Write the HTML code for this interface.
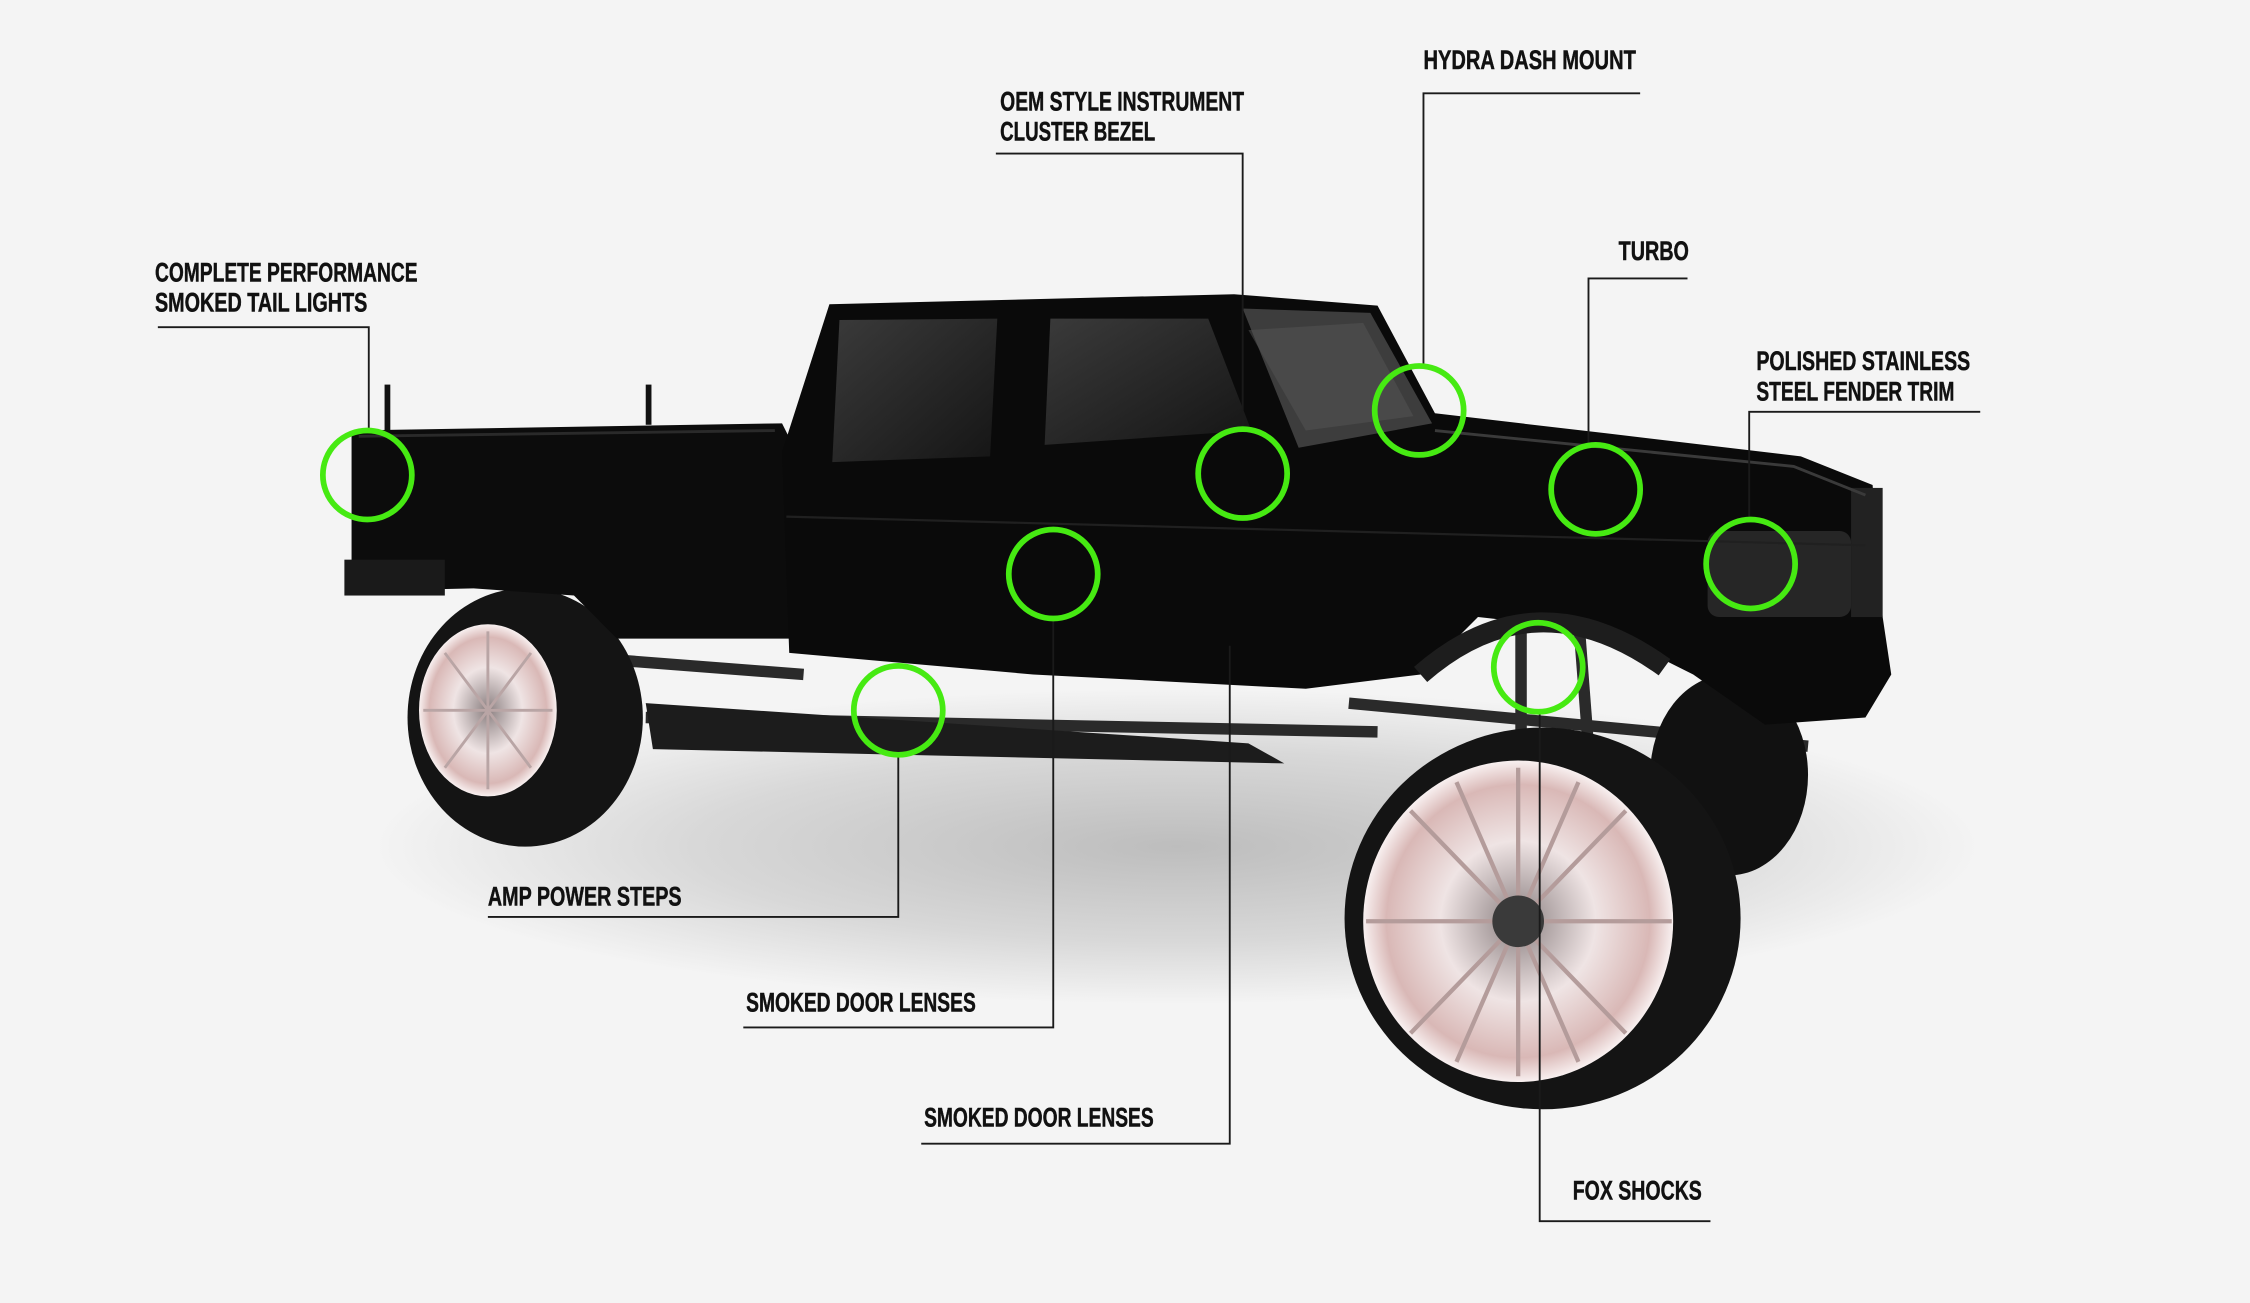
<!DOCTYPE html>
<html><head><meta charset="utf-8"><style>
html,body{margin:0;padding:0;background:#f4f4f4;}
svg{display:block}
.t{font-family:"Liberation Sans Narrow","Liberation Sans",sans-serif;font-weight:bold;font-size:19px;fill:#111;stroke:#111;stroke-width:0.35;}
.l{stroke:#1a1a1a;stroke-width:1.3;fill:none}
.c{stroke:#46ea12;stroke-width:4;fill:none}
</style></head><body>
<svg width="2250" height="1303" viewBox="0 0 1568 908" xmlns="http://www.w3.org/2000/svg">
<defs>
<radialGradient id="sh" cx="50%" cy="50%" r="50%">
<stop offset="0" stop-color="#bdbdbd"/><stop offset="0.6" stop-color="#d8d8d8"/><stop offset="1" stop-color="#f4f4f4"/>
</radialGradient>
<radialGradient id="rim" cx="50%" cy="50%" r="50%">
<stop offset="0" stop-color="#8a7f80"/><stop offset="0.5" stop-color="#efe4e4"/><stop offset="0.85" stop-color="#d9b8b6"/><stop offset="1" stop-color="#f8f0f0"/>
</radialGradient>
<linearGradient id="glass" x1="0" y1="0" x2="1" y2="1">
<stop offset="0" stop-color="#3a3a3a"/><stop offset="1" stop-color="#151515"/>
</linearGradient>
</defs>
<rect width="1568" height="908" fill="#f4f4f4"/>
<ellipse cx="820" cy="590" rx="560" ry="110" fill="url(#sh)"/>
<g stroke="#2a2a2a" stroke-width="8" fill="none">
<line x1="300" y1="450" x2="560" y2="470"/>
<line x1="450" y1="500" x2="960" y2="510"/>
<line x1="940" y1="490" x2="1260" y2="520"/>
<line x1="1100" y1="430" x2="1110" y2="560"/>
<line x1="1060" y1="430" x2="1060" y2="540"/>
</g>
<ellipse cx="1205" cy="540" rx="55" ry="70" fill="#111"/>
<ellipse cx="366" cy="500" rx="82" ry="90" fill="#141414"/>
<ellipse cx="340" cy="495" rx="48" ry="60" fill="url(#rim)"/>
<g stroke="#b9a5a5" stroke-width="2">
<line x1="340" y1="440" x2="340" y2="550"/><line x1="295" y1="495" x2="385" y2="495"/>
<line x1="310" y1="455" x2="370" y2="535"/><line x1="370" y1="455" x2="310" y2="535"/>
</g>
<path d="M245 300 L545 295 L555 315 L550 445 L430 445 L400 415 L330 410 L245 412 Z" fill="#0c0c0c"/>
<line x1="250" y1="304" x2="540" y2="300" stroke="#2a2a2a" stroke-width="2"/>
<rect x="240" y="390" width="70" height="25" fill="#1a1a1a"/>
<rect x="268" y="268" width="4" height="32" fill="#111"/>
<rect x="450" y="268" width="4" height="28" fill="#111"/>
<path d="M545 315 L578 212 L860 205 L960 213 L1000 288 L1120 302 L1255 318 L1305 338 L1312 430 L1318 470 L1300 500 L1230 505 L1180 470 L1120 440 L1030 430 L990 470 L910 480 L720 470 L550 455 Z" fill="#0a0a0a"/>
<path d="M585 223 L695 222 L690 318 L580 322 Z" fill="url(#glass)"/>
<path d="M732 222 L842 222 L872 300 L728 310 Z" fill="url(#glass)"/>
<path d="M866 215 L955 218 L998 295 L905 312 Z" fill="#3d3d3d"/>
<path d="M870 230 L950 225 L985 290 L910 300 Z" fill="#555" opacity="0.5"/>
<rect x="1190" y="370" width="100" height="60" rx="8" fill="#262626"/>
<rect x="1290" y="340" width="22" height="90" fill="#222"/>
<path d="M1000 300 L1250 325 L1300 345" stroke="#3a3a3a" stroke-width="2" fill="none"/>
<line x1="548" y1="360" x2="1300" y2="380" stroke="#202020" stroke-width="1.5"/>
<path d="M990 470 Q1070 400 1160 465" stroke="#1d1d1d" stroke-width="14" fill="none"/>
<path d="M450 490 L870 518 L895 532 L455 522 Z" fill="#1c1c1c"/>
<ellipse cx="1075" cy="640" rx="138" ry="133" fill="#141414"/>
<ellipse cx="1058" cy="642" rx="108" ry="112" fill="url(#rim)"/>
<g stroke="#b49c9b" stroke-width="3">
<line x1="1058" y1="535" x2="1058" y2="750"/><line x1="952" y1="642" x2="1165" y2="642"/>
<line x1="983" y1="565" x2="1133" y2="720"/><line x1="1133" y1="565" x2="983" y2="720"/>
<line x1="1015" y1="545" x2="1100" y2="740"/><line x1="1100" y1="545" x2="1015" y2="740"/>
</g>
<circle cx="1058" cy="642" r="18" fill="#3a3a3a"/>
<g class="l">
<polyline points="110,228 257,228 257,300"/>
<polyline points="694,107 866,107 866,299"/>
<polyline points="1143,65 992,65 992,255"/>
<polyline points="1176,194 1107,194 1107,310"/>
<polyline points="1380,287 1219,287 1219,362"/>
<polyline points="1073,496 1073,851 1192,851"/>
<polyline points="734,431 734,716 518,716"/>
<polyline points="857,450 857,797 642,797"/>
<polyline points="626,526 626,639 340,639"/>
</g>
<g class="c">
<circle cx="256" cy="331" r="31"/>
<circle cx="866" cy="330" r="31"/>
<circle cx="989" cy="286" r="31"/>
<circle cx="1112" cy="341" r="31"/>
<circle cx="1220" cy="393" r="31"/>
<circle cx="1072" cy="465" r="31"/>
<circle cx="734" cy="400" r="31"/>
<circle cx="626" cy="495" r="31"/>
</g>
<g class="t">
<text x="108" y="196" textLength="183" lengthAdjust="spacingAndGlyphs">COMPLETE PERFORMANCE</text>
<text x="108" y="217" textLength="148" lengthAdjust="spacingAndGlyphs">SMOKED TAIL LIGHTS</text>
<text x="697" y="77" textLength="170" lengthAdjust="spacingAndGlyphs">OEM STYLE INSTRUMENT</text>
<text x="697" y="98" textLength="108" lengthAdjust="spacingAndGlyphs">CLUSTER BEZEL</text>
<text x="992" y="48" textLength="148" lengthAdjust="spacingAndGlyphs">HYDRA DASH MOUNT</text>
<text x="1128" y="181" textLength="49" lengthAdjust="spacingAndGlyphs">TURBO</text>
<text x="1224" y="258" textLength="149" lengthAdjust="spacingAndGlyphs">POLISHED STAINLESS</text>
<text x="1224" y="279" textLength="138" lengthAdjust="spacingAndGlyphs">STEEL FENDER TRIM</text>
<text x="1096" y="836" textLength="90" lengthAdjust="spacingAndGlyphs">FOX SHOCKS</text>
<text x="520" y="705" textLength="160" lengthAdjust="spacingAndGlyphs">SMOKED DOOR LENSES</text>
<text x="644" y="785" textLength="160" lengthAdjust="spacingAndGlyphs">SMOKED DOOR LENSES</text>
<text x="340" y="631" textLength="135" lengthAdjust="spacingAndGlyphs">AMP POWER STEPS</text>
</g>
</svg>
</body></html>
